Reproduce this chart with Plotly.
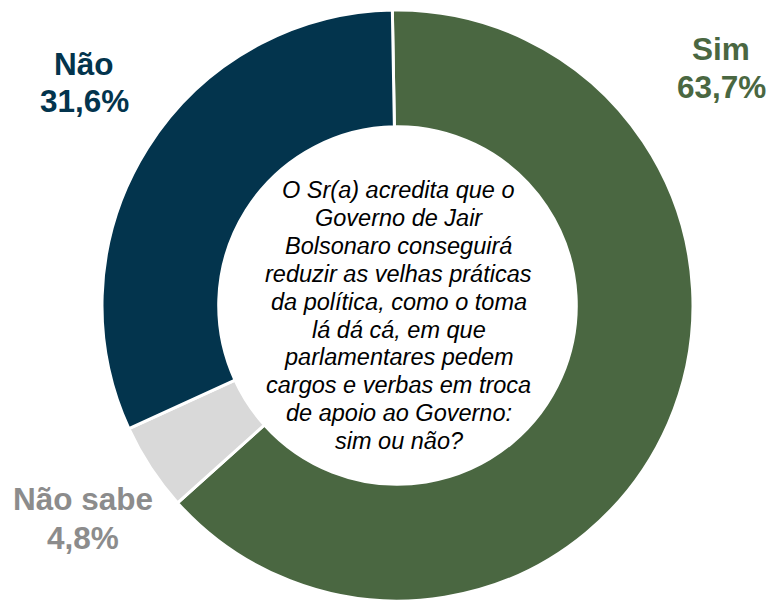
import plotly.graph_objects as go

labels = ["Sim", "Não sabe", "Não"]
values = [63.7, 4.8, 31.6]
value_text = ["63,7%", "4,8%", "31,6%"]
colors = ["#4A6741", "#D9D9D9", "#03344D"]
label_colors = ["#4A6741", "#8C8C8C", "#03344D"]

question_lines = [
    "O Sr(a) acredita que o",
    "Governo de Jair",
    "Bolsonaro conseguirá",
    "reduzir as velhas práticas",
    "da política, como o toma",
    "lá dá cá, em que",
    "parlamentares pedem",
    "cargos e verbas em troca",
    "de apoio ao Governo:",
    "sim ou não?",
]

W, H = 770, 601
cx, cy, r = 397.5, 305.5, 295.5

fig = go.Figure()
fig.add_trace(go.Pie(
    labels=labels, values=values, sort=False, direction="clockwise",
    rotation=-1, hole=0.605, textinfo="none", hoverinfo="label+percent",
    marker=dict(colors=colors, line=dict(color="white", width=3)),
    domain=dict(x=[(cx - r) / W, (cx + r) / W], y=[(H - cy - r) / H, (H - cy + r) / H]),
    showlegend=False,
))

annotations = []
# (x px center, y px of name line, y px of value line)
label_pos = {"Sim": (721, 49, 87), "Não sabe": (83, 499, 538), "Não": (84, 64, 101)}
for lab, vt, col in zip(labels, value_text, label_colors):
    x, y1, y2 = label_pos[lab]
    for txt, y in ((lab, y1), (vt, y2)):
        annotations.append(dict(
            x=x / W, y=1 - y / H, xref="paper", yref="paper", showarrow=False,
            text=f"<b>{txt}</b>", xanchor="center", yanchor="middle",
            font=dict(family="Liberation Sans, Arial", size=31.5, color=col),
        ))

first_center = 190
spacing = 27.9
for i, line in enumerate(question_lines):
    y = first_center + i * spacing
    annotations.append(dict(
        x=398.5 / W, y=1 - y / H, xref="paper", yref="paper", showarrow=False,
        text=f"<i>{line}</i>", xanchor="center", yanchor="middle",
        font=dict(family="Liberation Sans, Arial", size=23.5, color="#000000"),
    ))

fig.update_layout(
    width=W, height=H, margin=dict(l=0, r=0, t=0, b=0),
    paper_bgcolor="white", plot_bgcolor="white",
    annotations=annotations,
)
fig.write_html("out.html", config={"displayModeBar": False},
               post_script="document.body.style.margin='0';")
